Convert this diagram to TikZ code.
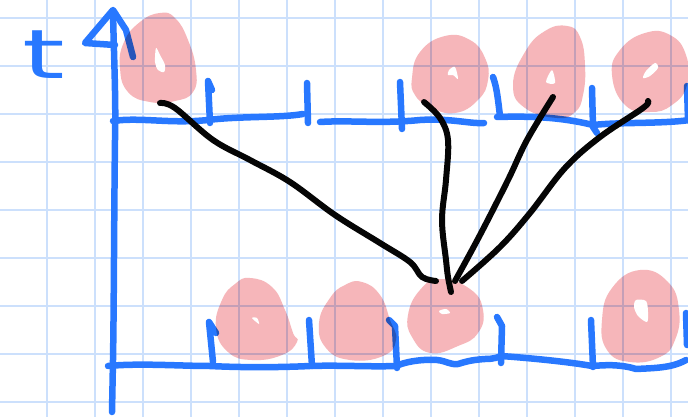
\documentclass[tikz,border=0pt]{standalone}
\usepackage{fontspec}
\newfontfamily\handfont{DejaVu Sans}
\definecolor{axisblue}{RGB}{40,120,255}
\definecolor{gridblue}{RGB}{204,224,252}
\definecolor{blobpink}{RGB}{246,182,186}
\definecolor{inkblack}{RGB}{5,5,5}
\tikzset{
  gridline/.style={draw=gridblue, line width=2pt},
  axisline/.style={draw=axisblue, line width=6.5pt, line cap=round, line join=round},
  blob/.style={fill=blobpink},
  blobhole/.style={fill=white},
  link/.style={draw=inkblack, line width=6pt, line cap=round, line join=round},
}
\begin{document}
\begin{tikzpicture}[x=1pt, y=-1pt]
\useasboundingbox (0,0) rectangle (688,417);
\fill[white] (0,0) rectangle (688,417);
% grid
\foreach \x in {47,95,...,671} \draw[gridline] (\x,0) -- (\x,417);
\foreach \y in {18,66,...,403} \draw[gridline] (0,\y) -- (688,\y);

% label t
\node[text=axisblue, font=\handfont\fontsize{68}{68}\selectfont, anchor=base, inner sep=0pt, xscale=1.6] (tlabel) at (44,79) {t};

% vertical axis with arrow head
\draw[axisline] (113,12) .. controls (114,60) and (116,100) .. (115,140)
   .. controls (114,220) and (114,300) .. (113,360) -- (112,412);
\draw[axisline] (115,45) -- (85,43) -- (113,10) -- (126,30) -- (133,57);

% top axis
\draw[axisline] (113,121) .. controls (140,117) and (170,124) .. (208,120)
   .. controls (240,116) and (280,118) .. (303,114);
\draw[axisline] (320,122) .. controls (350,120) and (380,124) .. (420,120)
   .. controls (450,118) and (470,124) .. (484,123);
\draw[axisline] (497,117) .. controls (530,116) and (560,117) .. (593,125)
   .. controls (620,122) and (660,124) .. (690,120);
\draw[axisline] (212,90) -- (208,81) -- (210,123);
\draw[axisline] (307,83) -- (308,123);
\draw[axisline] (400,82) -- (402,129);
\draw[axisline] (493,77) .. controls (497,88) and (498,100) .. (500,116);
\draw[axisline] (592,88) -- (593,127) -- (597,133);
\draw[axisline] (687,86) -- (688,120);

% bottom axis
\draw[axisline] (108,366) .. controls (140,363) and (180,366) .. (210,366)
   .. controls (250,368) and (290,367) .. (310,366)
   .. controls (340,365) and (370,367) .. (396,366)
   .. controls (405,362) and (420,359) .. (437,360)
   .. controls (447,361) and (450,365) .. (458,364)
   .. controls (465,362) and (470,360) .. (485,359)
   .. controls (495,359) and (498,357) .. (501,356)
   .. controls (530,358) and (570,362) .. (592,366)
   .. controls (605,365) and (620,364) .. (636,369)
   .. controls (655,368) and (672,368) .. (686,360);
\draw[axisline] (216,333) -- (209,322) -- (213,362);
\draw[axisline] (309,320) -- (312,366);
\draw[axisline] (389,320) -- (395,326) -- (397,368);
\draw[axisline] (497,317) -- (502,326) -- (501,363);
\draw[axisline] (591,320) -- (593,367);
\draw[axisline] (686,313) -- (687,345);

% blobs
\begin{scope}[blend mode=multiply]
\fill[blob] plot[smooth cycle, tension=0.8] coordinates {(160,13) (175,18) (188,40) (196,70) (193,92) (175,101) (150,102) (128,92) (120,68) (124,42) (140,22)};
\fill[blob] plot[smooth cycle, tension=0.8] coordinates {(412,78) (420,52) (445,36) (470,40) (485,58) (488,80) (478,100) (455,113) (430,107) (415,95)};
\fill[blob] plot[smooth cycle, tension=0.8] coordinates {(567,26) (580,37) (585,65) (583,95) (575,112) (557,118) (525,108) (513,85) (525,52) (545,31)};
\fill[blob] plot[smooth cycle, tension=0.8] coordinates {(612,75) (620,50) (645,33) (670,35) (686,55) (687,85) (672,105) (650,112) (625,105)};
\fill[blob] plot[smooth cycle, tension=0.8] coordinates {(250,278) (272,287) (285,310) (293,333) (297,342) (282,355) (252,360) (228,352) (216,328) (222,300) (235,284)};
\fill[blob] plot[smooth cycle, tension=0.8] coordinates {(362,282) (380,295) (390,320) (396,340) (383,356) (350,360) (326,348) (319,323) (330,298) (345,285)};
\fill[blob] plot[smooth cycle, tension=0.8] coordinates {(440,279) (470,289) (483,310) (478,333) (458,346) (430,353) (412,337) (408,315) (420,290)};
\fill[blob] plot[smooth cycle, tension=0.8] coordinates {(640,270) (668,282) (679,310) (675,340) (660,357) (630,362) (607,350) (602,320) (612,288)};
\end{scope}
% holes
\fill[blobhole] plot[smooth cycle] coordinates {(156,48) (160,55) (165,65) (164,72) (158,70) (155,62)};
\fill[blobhole] plot[smooth cycle] coordinates {(449,70) (455,67) (458,79) (453,75) (448,75)};
\fill[blobhole] plot[smooth cycle] coordinates {(552,70) (555,83) (546,82)};
\fill[blobhole] plot[smooth cycle] coordinates {(655,63) (658,68) (650,76) (643,78) (646,71)};
\fill[blobhole] plot[smooth cycle] coordinates {(252,318) (257,318) (259,324)};
\fill[blobhole] plot[smooth cycle] coordinates {(439,311) (446,309) (450,313) (442,314)};
\fill[blobhole] plot[smooth cycle] coordinates {(636,300) (646,301) (648,312) (647,322) (638,316) (634,307)};

% connectors
\coordinate (sA) at (160,103);
\coordinate (sB) at (424,102);
\coordinate (sC) at (553,97);
\coordinate (sD) at (648,101);
\coordinate (eA) at (436,281);
\coordinate (eB) at (451,292);
\coordinate (eC) at (455,281);
\coordinate (eD) at (462,281);
\draw[link] plot[smooth, tension=0.6] coordinates {(sA) (175,108) (213,140) (250,160) (290,182) (335,215) (380,243) (410,262) (422,277) (eA)};
\draw[link] plot[smooth, tension=0.6] coordinates {(sB) (440,118) (448,140) (446,180) (442,220) (446,260) (448,277) (eB)};
\draw[link] plot[smooth, tension=0.6] coordinates {(sC) (527,140) (508,180) (480,235) (eC)};
\draw[link] plot[smooth, tension=0.6] coordinates {(sD) (643,108) (600,137) (565,168) (530,213) (500,247) (eD)};
\end{tikzpicture}
\end{document}
